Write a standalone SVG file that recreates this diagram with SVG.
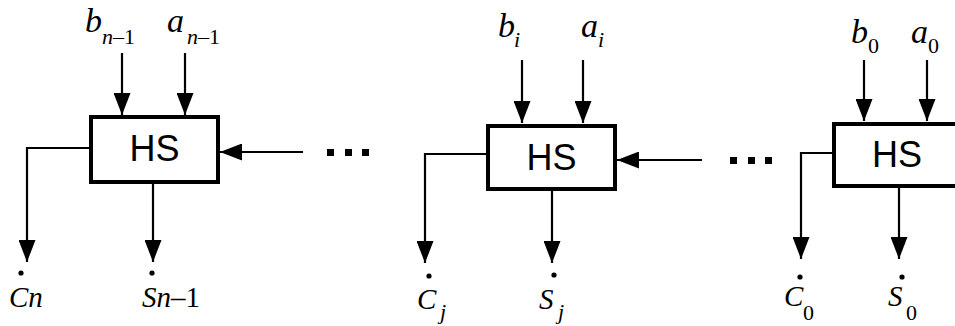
<svg xmlns="http://www.w3.org/2000/svg" width="955" height="326" viewBox="0 0 955 326">
<defs>
<marker id="ah" markerUnits="userSpaceOnUse" markerWidth="22" markerHeight="17" refX="22" refY="8.5" orient="auto" viewBox="0 0 22 17">
<path d="M0,0 L22,8.5 L0,17 z" fill="#000"/>
</marker>
<style>
.box{fill:#fff;stroke:#000;stroke-width:4}
.hs{font-family:"Liberation Sans",Arial,sans-serif;font-size:36px;text-anchor:middle;fill:#000}
.w{fill:none;stroke:#000;stroke-width:2.2;marker-end:url(#ah)}
.m{font-family:"Liberation Serif","Times New Roman",serif;font-style:italic;font-size:34px;fill:#000}
.s{font-family:"Liberation Serif","Times New Roman",serif;font-style:italic;font-size:22px;fill:#000}
.d{font-family:"Liberation Serif","Times New Roman",serif;font-size:22px;fill:#000}
.o{font-family:"Liberation Serif","Times New Roman",serif;font-style:italic;font-size:29px;fill:#000}
.up{font-style:normal}
.sq{fill:#000}
</style>
</defs>
<rect width="955" height="326" fill="#fff"/>
<g id="connectors">
<path class="w" d="M122,53 V115"/>
<path class="w" d="M185,53 V115"/>
<path class="w" d="M91,148 H27 V262"/>
<path class="w" d="M153,182 V262"/>
<path class="w" d="M303,152 H220"/>
<path class="w" d="M522,60 V123"/>
<path class="w" d="M583,60 V123"/>
<path class="w" d="M488,154 H425 V263"/>
<path class="w" d="M552,189 V263"/>
<path class="w" d="M702,160 H617"/>
<path class="w" d="M864,60 V121"/>
<path class="w" d="M927,60 V121"/>
<path class="w" d="M834,153 H801 V259"/>
<path class="w" d="M899,186 V259"/>
</g>
<g id="hs1">
<rect class="box" x="91" y="117" width="127" height="65"/>
<text class="hs" x="154.5" y="161">HS</text>
</g>
<g id="hs2">
<rect class="box" x="488" y="126" width="127" height="63"/>
<text class="hs" x="551.5" y="170">HS</text>
</g>
<g id="hs3">
<rect class="box" x="834" y="124" width="127" height="62"/>
<text class="hs" x="897" y="167">HS</text>
</g>
<g id="ellipsis1">
<rect class="sq" x="327" y="149" width="7" height="7"/>
<rect class="sq" x="345" y="149" width="7" height="7"/>
<rect class="sq" x="362" y="149" width="7" height="7"/>
</g>
<g id="ellipsis2">
<rect class="sq" x="730" y="157" width="7" height="7"/>
<rect class="sq" x="748" y="157" width="7" height="7"/>
<rect class="sq" x="765" y="157" width="7" height="7"/>
</g>
<g id="labels1">
<text class="m" x="85" y="32">b</text><text class="s" x="102" y="44">n<tspan class="up">–1</tspan></text>
<text class="m" x="167" y="32">a</text><text class="s" x="187" y="44">n<tspan class="up">–1</tspan></text>
<circle cx="21" cy="273" r="2.6"/>
<text class="o" x="9" y="307" font-size="26">Cn</text>
<circle cx="152" cy="273" r="2.6"/>
<text class="o" x="142" y="307" font-size="26">Sn<tspan class="up">–1</tspan></text>
</g>
<g id="labels2">
<text class="m" x="498" y="37">b</text><text class="s" x="514" y="47">i</text>
<text class="m" x="581" y="37">a</text><text class="s" x="598" y="47">i</text>
<circle cx="429" cy="276" r="2.6"/>
<text class="o" x="417" y="309">C</text><text class="s" x="440" y="319">j</text>
<circle cx="554" cy="275" r="2.6"/>
<text class="o" x="539" y="309">S</text><text class="s" x="558" y="319">j</text>
</g>
<g id="labels3">
<text class="m" x="851" y="43">b</text><text class="d" x="868" y="53">0</text>
<text class="m" x="911" y="43">a</text><text class="d" x="928" y="53">0</text>
<circle cx="800" cy="277" r="2.6"/>
<text class="o" x="784" y="306">C</text><text class="d" x="803" y="320">0</text>
<circle cx="902" cy="277" r="2.6"/>
<text class="o" x="888" y="306">S</text><text class="d" x="906" y="320">0</text>
</g>
</svg>
